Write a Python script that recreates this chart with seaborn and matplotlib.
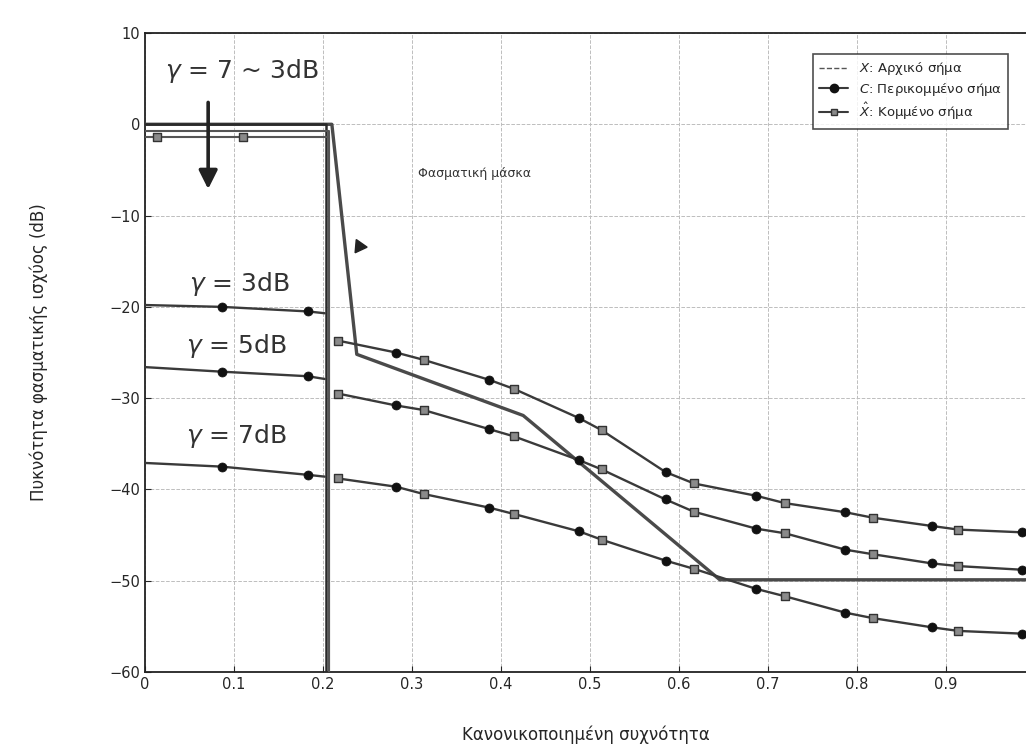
"""
Spectral density of original, clipped and clipped-filtered signal vs. spectral mask.
"""

import matplotlib

matplotlib.use("Agg")
import matplotlib.pyplot as plt
import pandas as pd
import seaborn as sns
from matplotlib.lines import Line2D

# original signal X
X_F = [0.0, 0.203, 0.203]
X_DB = [0.0, 0.0, -60.0]

# spectral mask
MASK_F = [0.0, 0.21, 0.238, 0.425, 0.646, 1.0]
MASK_DB = [0.0, 0.0, -25.2, -31.9, -49.9, -49.9]

# in-band part (gamma = 7 ~ 3 dB)
INBAND_F = [0.0, 0.013, 0.11, 0.207, 0.207]
INBAND_C_DB = [-0.7, -0.7, -0.7, -0.7, -60.0]
INBAND_XHAT_DB = [-1.4, -1.4, -1.4, -1.4, -60.0]
INBAND_MARK_F = [0.013, 0.11]
INBAND_MARK_DB = [-1.4, -1.4]

# low-frequency segment, C markers at 0.086 / 0.183
LEFT_F = [0.0, 0.086, 0.183, 0.202]
G3_LEFT_DB = [-19.8, -20.0, -20.5, -20.7]
G5_LEFT_DB = [-26.6, -27.1, -27.6, -27.9]
G7_LEFT_DB = [-37.1, -37.5, -38.4, -38.6]

# out-of-band segment
C_F = [0.282, 0.387, 0.488, 0.585, 0.687, 0.787, 0.884, 0.986]
XHAT_F = [0.217, 0.313, 0.415, 0.513, 0.617, 0.719, 0.818, 0.914]
G3_C_DB = [-25.0, -28.0, -32.2, -38.1, -40.7, -42.5, -44.0, -44.7]
G3_XHAT_DB = [-23.7, -25.8, -29.0, -33.5, -39.35, -41.5, -43.1, -44.4]
G5_C_DB = [-30.8, -33.4, -36.8, -41.1, -44.3, -46.6, -48.1, -48.8]
G5_XHAT_DB = [-29.5, -31.3, -34.2, -37.8, -42.45, -44.8, -47.1, -48.4]
G7_C_DB = [-39.7, -42.0, -44.6, -47.8, -50.9, -53.5, -55.1, -55.8]
G7_XHAT_DB = [-38.8, -40.5, -42.7, -45.5, -48.7, -51.7, -54.1, -55.5]

X_TICKS = [0, 0.1, 0.2, 0.3, 0.4, 0.5, 0.6, 0.7, 0.8, 0.9]
X_TICKLABELS = ["0", "0.1", "0.2", "0.3", "0.4", "0.5", "0.6", "0.7", "0.8", "0.9"]
Y_TICKS = [10, 0, -10, -20, -30, -40, -50, -60]

LINE = "#3a3a3a"


def build_frames():
    rows = []
    marks = []
    groups = {
        "3": (G3_LEFT_DB, G3_C_DB, G3_XHAT_DB),
        "5": (G5_LEFT_DB, G5_C_DB, G5_XHAT_DB),
        "7": (G7_LEFT_DB, G7_C_DB, G7_XHAT_DB),
    }
    for g, (left, c_db, xh_db) in groups.items():
        for f, d in zip(LEFT_F, left):
            rows.append({"f": f, "db": d, "seg": f"{g}-left"})
        for f, d in zip(LEFT_F[1:3], left[1:3]):
            marks.append({"f": f, "db": d, "kind": "C"})
        for f, d in zip(C_F, c_db):
            rows.append({"f": f, "db": d, "seg": f"{g}-right"})
            marks.append({"f": f, "db": d, "kind": "C"})
        for f, d in zip(XHAT_F, xh_db):
            rows.append({"f": f, "db": d, "seg": f"{g}-right"})
            marks.append({"f": f, "db": d, "kind": "Xhat"})
        # line runs to the right edge of the plot
        rows.append({"f": 1.0, "db": c_db[-1] - 0.05, "seg": f"{g}-right"})
    for f, d in zip(INBAND_MARK_F, INBAND_MARK_DB):
        marks.append({"f": f, "db": d, "kind": "Xhat"})
    return pd.DataFrame(rows), pd.DataFrame(marks)


def main():
    sns.set_style("ticks")
    plt.rcParams["font.family"] = ["DejaVu Sans"]

    fig = plt.figure(figsize=(10.26, 7.5), dpi=100)
    ax = fig.add_axes([0.1413, 0.104, 0.8587, 0.852])

    curves, marks = build_frames()

    ax.plot(MASK_F, MASK_DB, color="#4a4a4a", lw=2.4, zorder=3)
    ax.plot(X_F, X_DB, color="#2a2a2a", lw=1.8, zorder=3)
    ax.plot(INBAND_F, INBAND_C_DB, color="#555555", lw=1.5, zorder=3)
    ax.plot(INBAND_F, INBAND_XHAT_DB, color="#555555", lw=1.5, zorder=3)

    sns.lineplot(data=curves, x="f", y="db", units="seg", estimator=None,
                 color=LINE, lw=1.7, ax=ax, zorder=4)
    c_marks = marks[marks["kind"] == "C"]
    x_marks = marks[marks["kind"] == "Xhat"]
    sns.scatterplot(data=c_marks, x="f", y="db", marker="o", s=42,
                    color="#111111", edgecolor="#111111", ax=ax, zorder=5)
    sns.scatterplot(data=x_marks, x="f", y="db", marker="s", s=30,
                    color="#8a8a8a", edgecolor="#333333", linewidth=1.0,
                    ax=ax, zorder=5)

    ax.set_xlim(0, 0.99)
    ax.set_ylim(-60, 10)
    ax.set_xticks(X_TICKS)
    ax.set_xticklabels(X_TICKLABELS)
    ax.set_yticks(Y_TICKS)
    ax.tick_params(direction="in", labelsize=10.5, length=4)
    ax.grid(True, color="#bdbdbd", ls="--", lw=0.7)
    for side in ["left", "bottom", "top"]:
        ax.spines[side].set_color("#222222")
        ax.spines[side].set_linewidth(1.3)
    ax.spines["right"].set_visible(False)

    ax.set_xlabel("Κανονικοποιημένη συχνότητα", fontsize=12, labelpad=24)
    ax.set_ylabel("Πυκνότητα φασματικής ισχύος (dB)", fontsize=12, labelpad=44)

    big = dict(fontsize=18, color="#333333", va="center", ha="left", zorder=6)
    ax.text(0.022, 5.8, r"$\gamma$ = 7 ~ 3dB", **big)
    ax.text(0.05, -17.5, r"$\gamma$ = 3dB", **big)
    ax.text(0.046, -24.3, r"$\gamma$ = 5dB", **big)
    ax.text(0.046, -34.1, r"$\gamma$ = 7dB", **big)
    ax.annotate("", xy=(0.071, -7.4), xytext=(0.071, 2.7),
                arrowprops=dict(arrowstyle="-|>", color="#222222", lw=2.6,
                                mutation_scale=28), zorder=6)

    ax.text(0.37, -5.35, "Φασματική μάσκα", fontsize=9, color="#333333",
            ha="center", va="center")
    # small pointer head next to the mask
    ax.plot([0.241], [-13.3], marker=(3, 0, 25), ms=11, color="#222222",
            ls="none", zorder=6)

    handles = [
        Line2D([], [], color="#555555", ls="--", lw=1.0),
        Line2D([], [], color=LINE, lw=1.5, marker="o", ms=6,
               markerfacecolor="#111111", markeredgecolor="#111111"),
        Line2D([], [], color=LINE, lw=1.5, marker="s", ms=5,
               markerfacecolor="#8a8a8a", markeredgecolor="#333333"),
    ]
    labels = ["$X$: Αρχικό σήμα", "$C$: Περικομμένο σήμα",
              r"$\hat{X}$: Κομμένο σήμα"]
    leg = ax.legend(handles, labels, loc="upper right",
                    bbox_to_anchor=(0.9875, 0.978), fontsize=9.5,
                    frameon=True, fancybox=False, borderpad=0.5,
                    labelspacing=0.25, handlelength=2.2)
    leg.get_frame().set_edgecolor("#222222")
    leg.get_frame().set_linewidth(1.2)

    fig.savefig("out.png", dpi=100)
    plt.close(fig)


if __name__ == "__main__":
    main()
